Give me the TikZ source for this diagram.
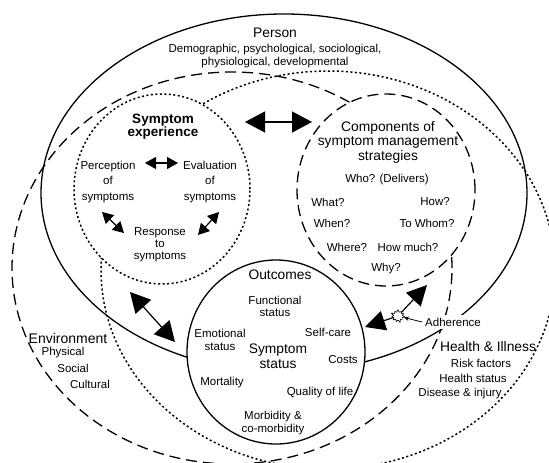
\documentclass[tikz,border=0pt]{standalone}
\usepackage{fontspec}
\setmainfont{Liberation Sans}
\usetikzlibrary{arrows.meta,shapes.geometric,shapes.symbols}

\begin{document}
\begin{tikzpicture}[x=1pt,y=-1pt,
  txt/.style={align=center, inner sep=1pt, font=\fontsize{11.5}{13}\selectfont},
  bigtxt/.style={align=center, inner sep=1pt, font=\fontsize{13.8}{14.5}\selectfont},
  dots/.style={line width=1.5pt, dash pattern=on 2pt off 2.5pt},
  dashes/.style={line width=1.3pt, dash pattern=on 11pt off 6pt},
  region/.style={ellipse, inner sep=0pt, line width=1.3pt},
  fatarrow/.style={line width=1.2pt, {Triangle[length=20pt,width=21pt]}-{Triangle[length=20pt,width=21pt]}},
  onearrow/.style={line width=1.2pt, -{Triangle[length=20pt,width=20pt]}},
  smallarrow/.style={line width=1.2pt, {Triangle[length=11pt,width=12pt]}-{Triangle[length=11pt,width=12pt]}}]
\useasboundingbox (0,0) rectangle (549,463);

% large domains
\node[region, draw, minimum width=486pt, minimum height=358pt] (person) at (284,193) {};
\node[region, draw, dashes, minimum width=440pt, minimum height=392pt] (environment) at (232,268) {};
\node[region, draw, dots, minimum width=454pt, minimum height=398pt] (health) at (328,270) {};

% inner circles
\node[region, draw, dots, fill=white, minimum width=176pt, minimum height=190pt] (experience) at (162,189) {};
\node[region, draw, dashes, fill=white, minimum width=178pt, minimum height=192pt] (strategies) at (386,190) {};
\node[region, draw, fill=white, minimum width=178pt, minimum height=184pt] (outcomes) at (276,352) {};

% texts
\node[bigtxt] (person-t) at (275,33) {Person};
\node[txt, font=\fontsize{11.5}{12.5}\selectfont] (person-d) at (275,56) {Demographic, psychological, sociological,\\ physiological, developmental};

\node[txt, font=\bfseries\fontsize{13.5}{13}\selectfont] (exp-t) at (163,127) {Symptom\\experience};
\node[txt, font=\fontsize{11.5}{15.5}\selectfont] (perception) at (108,182) {Perception\\of\\symptoms};
\node[txt, font=\fontsize{11.5}{15.5}\selectfont] (evaluation) at (210,182) {Evaluation\\of\\symptoms};
\node[txt, font=\fontsize{11.5}{12}\selectfont] (response) at (160,245) {Response\\to\\symptoms};

\node[bigtxt] (strat-t) at (388,142) {Components of\\symptom management\\strategies};
\node[txt] (who) at (387,180) {Who? (Delivers)};
\node[txt] (what) at (328,202) {What?};
\node[txt] (how) at (435,202) {How?};
\node[txt] (when) at (332,223) {When?};
\node[txt] (towhom) at (427,223) {To Whom?};
\node[txt] (where) at (347,247) {Where?};
\node[txt] (howmuch) at (408,247) {How much?};
\node[txt] (why) at (386,269) {Why?};

\node[bigtxt] (out-t) at (280,275) {Outcomes};
\node[txt, font=\fontsize{11.5}{12}\selectfont] (functional) at (275,306) {Functional\\status};
\node[txt] (emotional) at (220,339.5) {Emotional\\status};
\node[bigtxt] (symstatus) at (278,356) {Symptom\\status};
\node[txt] (selfcare) at (328,332) {Self-care};
\node[txt] (costs) at (343,360) {Costs};
\node[txt] (mortality) at (222,383) {Mortality};
\node[txt] (quality) at (320,393) {Quality of life};
\node[txt] (morbidity) at (273,423.5) {Morbidity \&\\co-morbidity};

\node[bigtxt, font=\fontsize{14}{15}\selectfont] (env-t) at (68,338) {Environment};
\node[txt] (physical) at (63,353) {Physical};
\node[txt] (social) at (73,368) {Social};
\node[txt] (cultural) at (90,384) {Cultural};

\node[bigtxt] (health-t) at (488,347) {Health \& Illness};
\node[txt] (risk) at (481,363) {Risk factors};
\node[txt] (hstatus) at (473,378) {Health status};
\node[txt] (disease) at (460,394) {Disease \& injury};

% arrows
\coordinate (exp-r) at (245,122);
\coordinate (strat-l) at (312,122);
\draw[fatarrow] (exp-r) -- (strat-l);

\coordinate (perc-r) at (145,163);
\coordinate (eval-l) at (178,163);
\draw[smallarrow] (perc-r) -- (eval-l);
\coordinate (perc-b) at (102,212);
\coordinate (resp-l) at (124,233);
\draw[smallarrow] (perc-b) -- (resp-l);
\coordinate (eval-b) at (219,212);
\coordinate (resp-r) at (198,235);
\draw[smallarrow] (eval-b) -- (resp-r);

\coordinate (exp-b) at (130,292);
\coordinate (out-l) at (175,342);
\draw[fatarrow] (exp-b) -- (out-l);

\node[starburst, draw, fill=white, line width=0.6pt, minimum width=15pt, minimum height=14pt,
  starburst points=11, starburst point height=3pt, inner sep=0pt] (zap) at (398,316) {};
\coordinate (strat-b) at (427,285);
\coordinate (out-r) at (365,327);
\draw[onearrow] (zap) -- (strat-b);
\draw[onearrow] (zap) -- (out-r);

\node[txt, fill=white, inner sep=3pt] (adherence) at (453,322) {Adherence};
\draw[line width=0.8pt, -{Stealth[length=5pt,width=4.5pt]}] (adherence.west) -- (zap);
\end{tikzpicture}
\end{document}
